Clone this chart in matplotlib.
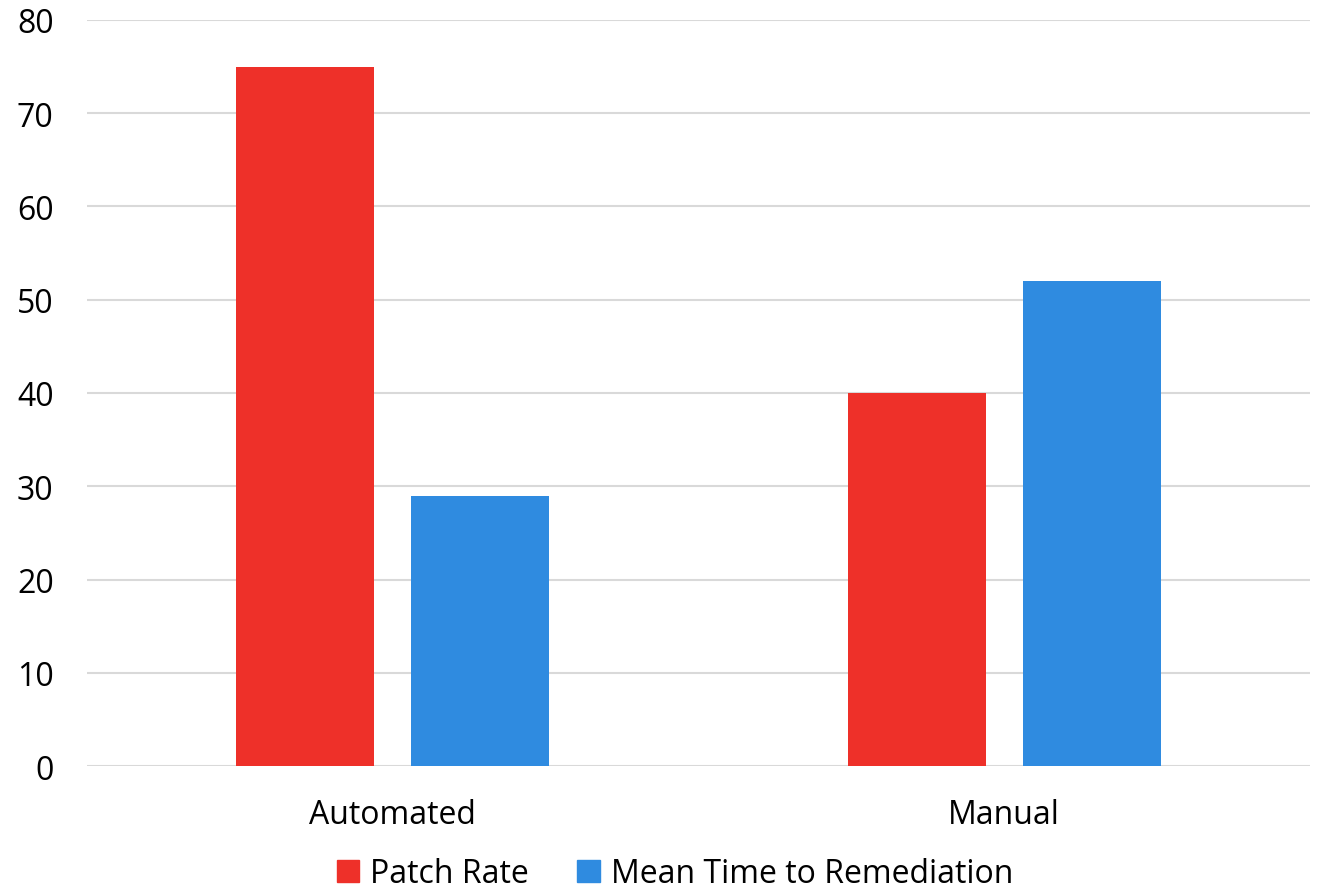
import numpy as np
import matplotlib
matplotlib.use("Agg")
import matplotlib.pyplot as plt
from matplotlib.patches import Patch

categories = ["Automated", "Manual"]
patch_rate = [75, 40]
mttr = [29, 52]
series_names = ["Patch Rate", "Mean Time to Remediation"]
colors = ["#EE3029", "#2F8BE0"]

plt.rcParams['font.family'] = ['Open Sans', 'DejaVu Sans']

fig = plt.figure(figsize=(13.17, 8.95), dpi=100)
ax = fig.add_axes([87/1317, 1 - 767/895, (1310-87)/1317, (767-21)/895])

x = np.arange(len(categories))
w = 0.2257
off = 0.1427
ax.bar(x - off, patch_rate, width=w, color=colors[0], zorder=3)
ax.bar(x + off, mttr, width=w, color=colors[1], zorder=3)

ax.set_xlim(-0.5, 1.5)
ax.set_ylim(0, 80)
ax.set_yticks(range(0, 81, 10))
ax.set_xticks(x)
ax.set_xticklabels(categories)
ax.tick_params(axis='both', length=0, labelsize=23, colors='black')
ax.tick_params(axis='y', pad=24)
ax.tick_params(axis='x', pad=23)
ax.grid(axis='y', color='#d9d9d9', linewidth=1.5, zorder=0)
for s in ax.spines.values():
    s.set_visible(False)

# legend sits right at the bottom edge like the original
handles = [Patch(color=c, label=n) for c, n in zip(colors, series_names)]
fig.legend(handles=handles, loc='lower center', bbox_to_anchor=(675/1317, -12/895),
           ncol=2, frameon=False, fontsize=23, handlelength=0.7, handleheight=0.7,
           handletextpad=0.35, columnspacing=1.5, borderpad=0.0)

fig.savefig("out.png", dpi=100)
